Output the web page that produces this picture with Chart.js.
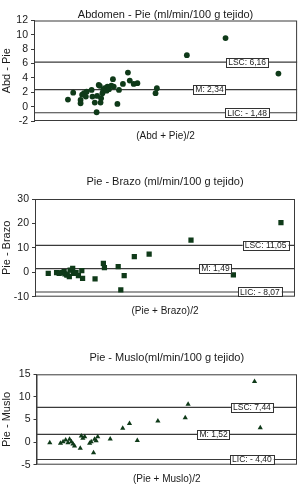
<!DOCTYPE html>
<html><head><meta charset="utf-8">
<script src="https://cdn.jsdelivr.net/npm/chart.js@4"></script>
<style>
html,body{margin:0;padding:0;background:#fff;width:300px;height:487px;overflow:hidden}
canvas{position:absolute;left:0;display:block}
</style></head><body>
<canvas id="c1" width="300" height="160" style="top:0"></canvas>
<canvas id="c2" width="300" height="165" style="top:160px"></canvas>
<canvas id="c3" width="300" height="162" style="top:325px"></canvas>
<script>
// ---- Data (x axis has no scale in the original; arbitrary 0-100 units) ----
const abdPieX = [12.9,14.9,17.7,18.3,19.0,19.7,17.7,20.0,21.9,22.2,23.1,23.8,24.6,25.0,24.0,25.3,25.5,26.0,26.3,26.9,27.6,27.9,28.5,29.4,30.0,30.3,31.7,32.3,33.8,35.7,36.4,37.9,39.3,46.2,46.7,58.1,72.8,92.9];
const abdPieY = [0.98,1.95,0.94,1.67,1.87,1.40,0.47,2.09,2.33,1.40,0.56,-0.78,3.03,2.9,1.49,0.56,1.17,1.87,2.33,2.57,2.23,2.79,2.43,2.93,3.82,2.79,0.38,2.33,3.17,4.75,3.63,3.17,3.27,1.87,2.57,7.17,9.55,4.61];
const abdPieLimits = [6.2, 2.38, -0.85];
const abdPieLabels = ['LSC: 6,16', 'M: 2,34', 'LIC: - 1,48'];

const pieBrazoX = [5.1,8.3,9.3,10.3,11.2,11.5,12.2,12.4,13.2,13.5,14.5,14.7,15.4,15.8,16.7,18.0,18.3,23.1,26.3,26.7,32.0,33.0,34.3,38.2,43.9,60.0,76.3,94.6];
const pieBrazoY = [-0.41,-0.16,-0.41,-0.16,0.25,-0.70,-1.1,-1.1,-1.8,0.9,1.64,-0.41,-0.41,-0.16,-1.39,0.66,-2.46,-2.74,3.68,1.88,2.29,-7.25,-1.39,6.39,7.45,13.2,-1.1,20.3];
const pieBrazoLimits = [11.05, 1.49, -8.07];
const pieBrazoLabels = ['LSC: 11,05', 'M: 1,49', 'LIC: - 8,07'];

const pieMusloX = [5.1,9.2,10.2,11.2,12.1,12.7,13.4,14.0,14.6,16.8,17.2,17.8,18.5,20.4,21.0,21.9,22.3,22.9,23.5,28.3,33.1,35.7,38.7,46.6,57.1,58.2,83.7,85.9];
const pieMusloY = [-0.13,-0.27,0.09,0.46,-0.13,0.62,0.09,-0.42,-0.86,-1.37,1.35,0.84,1.19,-0.27,0.09,-2.35,0.62,0.31,1.19,0.69,3.05,4.1,0.38,4.67,5.4,8.36,13.4,3.19];
const pieMusloLimits = [7.7, 1.7, -3.85];
const pieMusloLabels = ['LSC: 7,44', 'M: 1,52', 'LIC: - 4,40'];

const FONT = '"Liberation Sans", Arial, Helvetica, sans-serif';
const GREEN = '#0f3a19';
const LINE = '#3a3a3a';
const TEXT = '#1a1a1a';

const refPlugin = {
  id: 'refLines',
  beforeDatasetsDraw(chart, args, o) {
    const {ctx, chartArea: a, scales: {y}} = chart;
    ctx.save();
    ctx.strokeStyle = LINE;
    ctx.lineWidth = 1.2;
    o.values.forEach(v => {
      const py = y.getPixelForValue(v);
      ctx.beginPath(); ctx.moveTo(a.left, py); ctx.lineTo(a.right, py); ctx.stroke();
    });
    ctx.lineWidth = 1;
    ctx.strokeRect(a.left + 0.5, a.top + 0.5, a.right - a.left - 1, a.bottom - a.top - 1);
    ctx.restore();
  },
  afterDatasetsDraw(chart, args, o) {
    const {ctx, chartArea: a, scales: {y}} = chart;
    ctx.save();
    ctx.font = '8.5px ' + FONT;
    ctx.textAlign = 'center';
    ctx.textBaseline = 'middle';
    o.values.forEach((v, i) => {
      const py = y.getPixelForValue(v);
      const cx = a.left + o.pos[i] * (a.right - a.left);
      const tw = ctx.measureText(o.labels[i]).width;
      const w = tw + 4, h = 9;
      ctx.fillStyle = '#fff';
      ctx.fillRect(cx - w / 2, py - h / 2, w, h);
      ctx.strokeStyle = '#333';
      ctx.lineWidth = 1;
      ctx.strokeRect(Math.round(cx - w / 2) + 0.5, Math.round(py - h / 2) + 0.5, Math.round(w), h);
      ctx.fillStyle = TEXT;
      ctx.fillText(o.labels[i], cx, py + 0.5);
    });
    ctx.restore();
  }
};

function makeChart(id, c) {
  return new Chart(document.getElementById(id), {
    type: 'scatter',
    data: {
      datasets: [{
        data: c.x.map((v, i) => ({x: v, y: c.y[i]})),
        pointStyle: c.style,
        pointRadius: c.radius,
        pointHoverRadius: c.radius,
        backgroundColor: GREEN,
        borderColor: GREEN,
        borderWidth: 0
      }]
    },
    options: {
      responsive: false,
      animation: false,
      layout: {padding: {top: c.padTop, bottom: c.padBottom, left: 0, right: c.padRight}},
      plugins: {
        legend: {display: false},
        tooltip: {enabled: false},
        title: {
          display: true, text: c.title, color: TEXT, fullSize: false,
          font: {size: 11, family: FONT, weight: 'normal', lineHeight: 1},
          padding: {top: 0, bottom: c.titleGap}
        },
        refLines: {values: c.limits, labels: c.labels, pos: c.labelPos}
      },
      scales: {
        x: {
          type: 'linear', min: 0, max: 100,
          ticks: {display: false},
          grid: {display: false, drawTicks: false, tickLength: 0},
          border: {display: false},
          title: {display: true, text: c.xTitle, color: TEXT, font: {size: 10, family: FONT}, padding: {top: 9, bottom: 1}}
        },
        y: {
          min: c.ymin, max: c.ymax,
          ticks: {stepSize: c.step, autoSkip: false, color: TEXT, font: {size: 10.5, family: FONT}, padding: 3},
          grid: {drawOnChartArea: false, drawTicks: true, tickLength: 3, color: LINE},
          border: {display: true, color: LINE},
          title: {display: true, text: c.yTitle, color: TEXT, font: {size: 11, family: FONT}, padding: {top: 0, bottom: 0}},
          afterFit(s) { s.width = c.left; }
        }
      }
    },
    plugins: [refPlugin]
  });
}

makeChart('c1', {
  x: abdPieX, y: abdPieY, style: 'circle', radius: 2.9,
  title: 'Abdomen - Pie (ml/min/100 g tejido)', xTitle: '(Abd + Pie)/2', yTitle: 'Abd - Pie',
  ymin: -2, ymax: 12, step: 2,
  limits: abdPieLimits, labels: abdPieLabels, labelPos: [0.81, 0.667, 0.81],
  padTop: 9.5, titleGap: 0, padBottom: 17, padRight: 2, left: 34
});
makeChart('c2', {
  x: pieBrazoX, y: pieBrazoY, style: 'rect', radius: 3.7,
  title: 'Pie - Brazo (ml/min/100 g tejido)', xTitle: '(Pie + Brazo)/2', yTitle: 'Pie - Brazo',
  ymin: -10, ymax: 30, step: 10,
  limits: pieBrazoLimits, labels: pieBrazoLabels, labelPos: [0.887, 0.694, 0.865],
  padTop: 16.2, titleGap: 11.8, padBottom: 6.3, padRight: 5, left: 35
});
makeChart('c3', {
  x: pieMusloX, y: pieMusloY, style: 'triangle', radius: 3,
  title: 'Pie - Muslo(ml/min/100 g tejido)', xTitle: '(Pie + Muslo)/2', yTitle: 'Pie - Muslo',
  ymin: -5, ymax: 15, step: 5,
  limits: pieMusloLimits, labels: pieMusloLabels, labelPos: [0.827, 0.68, 0.827],
  padTop: 27.2, titleGap: 11.1, padBottom: 0.3, padRight: 2, left: 36.5
});
</script>
</body></html>
